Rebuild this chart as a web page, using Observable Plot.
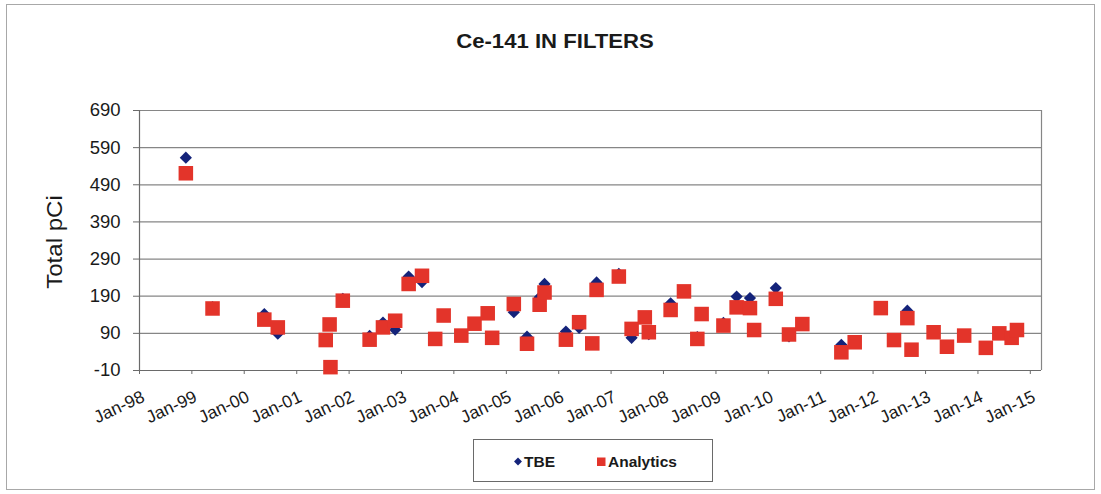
<!DOCTYPE html>
<html>
<head>
<meta charset="utf-8">
<script src="https://cdn.jsdelivr.net/npm/d3@7"></script>
<script src="https://cdn.jsdelivr.net/npm/@observablehq/plot@0.6"></script>
<style>
  body { margin: 0; background: #fff; }
  #wrap { position: relative; width: 1101px; height: 494px; overflow: hidden; background: #fff; }
  #wrap > svg { position: absolute; left: 0; top: 0; }
</style>
</head>
<body>
<div id="wrap"></div>
<script>
// ---- data ----
const sampleDates = [
  "1998-11-20","1999-05-25","2000-05-20","2000-08-22","2001-07-22","2001-08-18","2001-08-24","2001-11-18",
  "2002-05-24","2002-08-25","2002-11-18","2003-02-20","2003-05-24","2003-08-24","2003-10-22","2004-02-22",
  "2004-05-24","2004-08-24","2004-09-24","2005-02-22","2005-05-25","2005-08-21","2005-09-24","2006-02-20",
  "2006-05-23","2006-08-23","2006-09-22","2007-02-24","2007-05-24","2007-08-24","2007-09-21","2008-02-20",
  "2008-05-23","2008-08-24","2008-09-23","2009-02-22","2009-05-25","2009-08-26","2009-09-24","2010-02-22",
  "2010-05-25","2010-08-26","2011-05-25","2011-08-26","2012-02-24","2012-05-26","2012-08-27","2012-09-25",
  "2013-02-26","2013-05-30","2013-09-27","2014-02-25","2014-05-30","2014-08-24","2014-09-30"
];
const tbeValues = [
  563,161,142,89,73,114,-1,183,
  83,119,100,243,228,75,138,84,
  116,144,78,147,81,187,223,95,
  105,63,227,250,78,133,88,171,
  203,80,142,118,189,185,99,212,
  82,115,59,66,158,72,151,46,
  93,54,84,51,90,86,99
];
const analyticsValues = [
  521,157,127,106,72,114,-1,178,
  73,106,124,223,245,75,138,84,
  116,144,78,169,62,167,200,73,
  120,63,207,243,102,133,93,153,
  203,75,142,111,160,158,99,183,
  87,115,39,66,158,72,131,46,
  93,54,84,51,90,78,99
];
const yTicks = [-10, 90, 190, 290, 390, 490, 590, 690];
const xTickYears = [1998,1999,2000,2001,2002,2003,2004,2005,2006,2007,2008,2009,2010,2011,2012,2013,2014,2015];
const seriesNames = ["TBE", "Analytics"];
const titleText = "Ce-141 IN FILTERS";
const yLabel = "Total pCi";

// ---- build ----
const rows = sampleDates.map((d, i) => ({date: new Date(d), tbe: tbeValues[i], analytics: analyticsValues[i]}));
const tickDates = xTickYears.map(y => new Date(Date.UTC(y, 0, 1)));
const xMin = tickDates[0];
const xMax = new Date(Date.UTC(2015, 2, 20));
const fmt = d3.utcFormat("%b-%y");
const font = "'Liberation Sans', Arial, sans-serif";
const navy = "#14237a";
const red = "#e3342a";
const grid = "#868686";

const chart = Plot.plot({
  width: 1101,
  height: 494,
  marginLeft: 139,
  marginRight: 60,
  marginTop: 110,
  marginBottom: 124,
  style: {fontFamily: font, background: "transparent", overflow: "visible"},
  x: {type: "utc", domain: [xMin, xMax]},
  y: {domain: [-10, 690]},
  marks: [
    Plot.ruleY(yTicks, {stroke: grid, strokeWidth: 1.2}),
    Plot.ruleX([xMax], {stroke: grid, strokeWidth: 1.2}),
    Plot.ruleX([xMin], {stroke: "#6a6a6a", strokeWidth: 1.2}),
    Plot.ruleY([-10], {stroke: "#6a6a6a", strokeWidth: 1.2}),
    Plot.axisY({ticks: yTicks, tickSize: 6, tickPadding: 13, fontSize: 18.5, stroke: "#6a6a6a", fill: "#1a1a1a", tickFormat: d => String(d), label: null}),
    Plot.axisX({ticks: tickDates, tickSize: 4, tickFormat: () => "", stroke: "#6a6a6a", label: null}),
    Plot.text(tickDates, {x: d => d, frameAnchor: "bottom", text: d => fmt(d), rotate: -25, textAnchor: "end", lineAnchor: "top", dx: 1, dy: 19, fontSize: 17.5, fill: "#1a1a1a"}),
    Plot.dot(rows, {x: "date", y: "tbe", symbol: "diamond2", r: 5.5, fill: navy, stroke: "none"}),
    Plot.dot(rows, {x: "date", y: "analytics", symbol: "square", r: 8.2, fill: red, stroke: "none"})
  ]
});

const wrap = document.getElementById("wrap");
wrap.appendChild(chart);

// overlay: frame, title, y label, legend
const ov = d3.create("svg").attr("width", 1101).attr("height", 494)
  .style("font-family", font);
ov.append("rect").attr("x", 6.5).attr("y", 4.5).attr("width", 1088).attr("height", 485)
  .attr("fill", "none").attr("stroke", "#a8a8a8");
ov.append("text").attr("transform", "translate(555,48) scale(1.08,1)")
  .attr("text-anchor", "middle").attr("font-weight", "bold").attr("font-size", 20.5)
  .attr("fill", "#1a1a1a").text(titleText);
ov.append("text").attr("transform", "translate(62,242) rotate(-90) scale(1.12,1)")
  .attr("text-anchor", "middle").attr("font-size", 21.5).attr("fill", "#1a1a1a").text(yLabel);
// legend
ov.append("rect").attr("x", 473.5).attr("y", 439.5).attr("width", 239).attr("height", 42)
  .attr("fill", "#fff").attr("stroke", "#6a6a6a");
ov.append("path").attr("d", d3.symbol(d3.symbolDiamond2, 40)()).attr("transform", "translate(518,461.5)").attr("fill", navy);
ov.append("text").attr("x", 524).attr("y", 467).attr("font-size", 15.5).attr("font-weight", "bold").attr("fill", "#1a1a1a").text(seriesNames[0]);
ov.append("rect").attr("x", 597).attr("y", 457.5).attr("width", 8.5).attr("height", 8.5).attr("fill", red);
ov.append("text").attr("x", 608).attr("y", 467).attr("font-size", 15.5).attr("font-weight", "bold").attr("fill", "#1a1a1a").text(seriesNames[1]);
wrap.appendChild(ov.node());
</script>
</body>
</html>
